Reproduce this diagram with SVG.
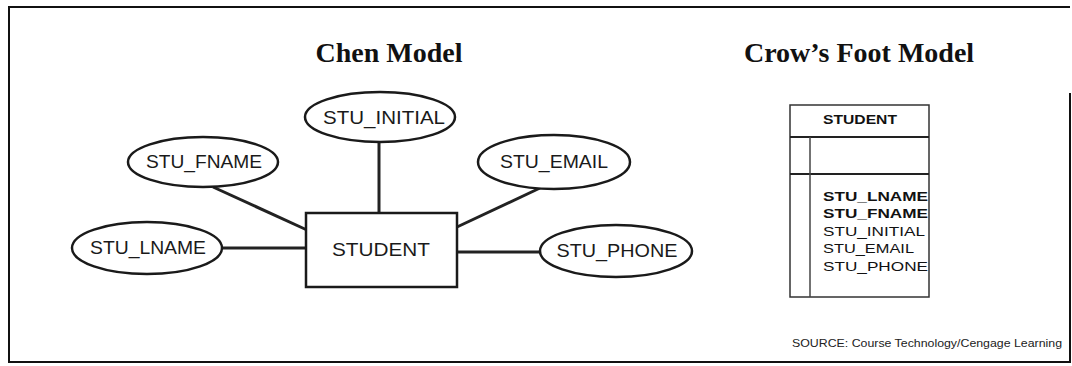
<svg xmlns="http://www.w3.org/2000/svg" width="1072" height="366" viewBox="0 0 1072 366">
  <style>
    .title { font-family: "Liberation Serif", "Times New Roman", serif; font-weight: bold; font-size: 28px; fill: #111; text-anchor: middle; }
    .attr { fill: #fff; stroke: #1a1a1a; stroke-width: 2.5; }
    .ent { fill: #fff; stroke: #1a1a1a; stroke-width: 2.5; }
    .lbl { font-family: "Liberation Sans", Arial, sans-serif; font-size: 18px; fill: #1a1a1a; text-anchor: middle; }
    .conn { stroke: #222; stroke-width: 3; fill: none; }
    .tbl { fill: #fff; stroke: #333; stroke-width: 1.5; }
    .tline { stroke: #222; stroke-width: 2; fill: none; }
    .tdiv { stroke: #444; stroke-width: 1.5; fill: none; }
    .ttxt { font-family: "Liberation Sans", Arial, sans-serif; font-size: 13px; fill: #111; }
    .src { font-family: "Liberation Sans", Arial, sans-serif; font-size: 11px; fill: #222; }
  </style>

  <!-- frame -->
  <path d="M1070,93 V362 H9 V7 H1070" fill="none" stroke="#111" stroke-width="2"/>

  <text class="title" x="389" y="62">Chen Model</text>
  <text class="title" x="859" y="62">Crow’s Foot Model</text>

  <!-- connectors -->
  <g id="connectors">
    <line class="conn" x1="379" y1="143" x2="379" y2="213"/>
    <line class="conn" x1="213" y1="187" x2="307" y2="230"/>
    <line class="conn" x1="222" y1="248" x2="307" y2="248"/>
    <line class="conn" x1="540" y1="188" x2="457" y2="227"/>
    <line class="conn" x1="457" y1="252" x2="540" y2="252"/>
  </g>

  <g id="student">
    <rect class="ent" x="306" y="213" width="151" height="74"/>
    <text class="lbl" x="381" y="256" textLength="98" lengthAdjust="spacingAndGlyphs">STUDENT</text>
  </g>
  <g id="stu_initial">
    <ellipse class="attr" cx="380" cy="117" rx="75" ry="25"/>
    <text class="lbl" x="384" y="123.5" textLength="122" lengthAdjust="spacingAndGlyphs">STU_INITIAL</text>
  </g>
  <g id="stu_fname">
    <ellipse class="attr" cx="203" cy="162" rx="75" ry="25"/>
    <text class="lbl" x="204" y="168" textLength="116" lengthAdjust="spacingAndGlyphs">STU_FNAME</text>
  </g>
  <g id="stu_lname">
    <ellipse class="attr" cx="147" cy="248" rx="75" ry="26"/>
    <text class="lbl" x="148" y="254" textLength="116" lengthAdjust="spacingAndGlyphs">STU_LNAME</text>
  </g>
  <g id="stu_email">
    <ellipse class="attr" cx="554" cy="162" rx="76" ry="27"/>
    <text class="lbl" x="554" y="168" textLength="108" lengthAdjust="spacingAndGlyphs">STU_EMAIL</text>
  </g>
  <g id="stu_phone">
    <ellipse class="attr" cx="616" cy="251" rx="76" ry="26"/>
    <text class="lbl" x="617" y="257" textLength="121" lengthAdjust="spacingAndGlyphs">STU_PHONE</text>
  </g>

  <!-- Crow's Foot entity -->
  <g id="cf_student">
    <rect x="790" y="105" width="139" height="32" fill="#e4e4e4"/>
    <rect class="tbl" x="790" y="105" width="139" height="192"/>
    <line class="tline" x1="790" y1="137" x2="929" y2="137"/>
    <line class="tline" x1="790" y1="174" x2="929" y2="174"/>
    <line class="tdiv" x1="810" y1="137" x2="810" y2="297"/>
    <text class="ttxt" x="860" y="124" text-anchor="middle" font-weight="bold" textLength="74" lengthAdjust="spacingAndGlyphs">STUDENT</text>
    <text class="ttxt" x="823" y="201" font-weight="bold" textLength="105" lengthAdjust="spacingAndGlyphs">STU_LNAME</text>
    <text class="ttxt" x="823" y="218" font-weight="bold" textLength="105" lengthAdjust="spacingAndGlyphs">STU_FNAME</text>
    <text class="ttxt" x="823" y="236" textLength="102" lengthAdjust="spacingAndGlyphs">STU_INITIAL</text>
    <text class="ttxt" x="823" y="253" textLength="91" lengthAdjust="spacingAndGlyphs">STU_EMAIL</text>
    <text class="ttxt" x="823" y="271" textLength="105" lengthAdjust="spacingAndGlyphs">STU_PHONE</text>
  </g>

  <text class="src" x="792" y="347" textLength="270" lengthAdjust="spacingAndGlyphs">SOURCE: Course Technology/Cengage Learning</text>
</svg>
